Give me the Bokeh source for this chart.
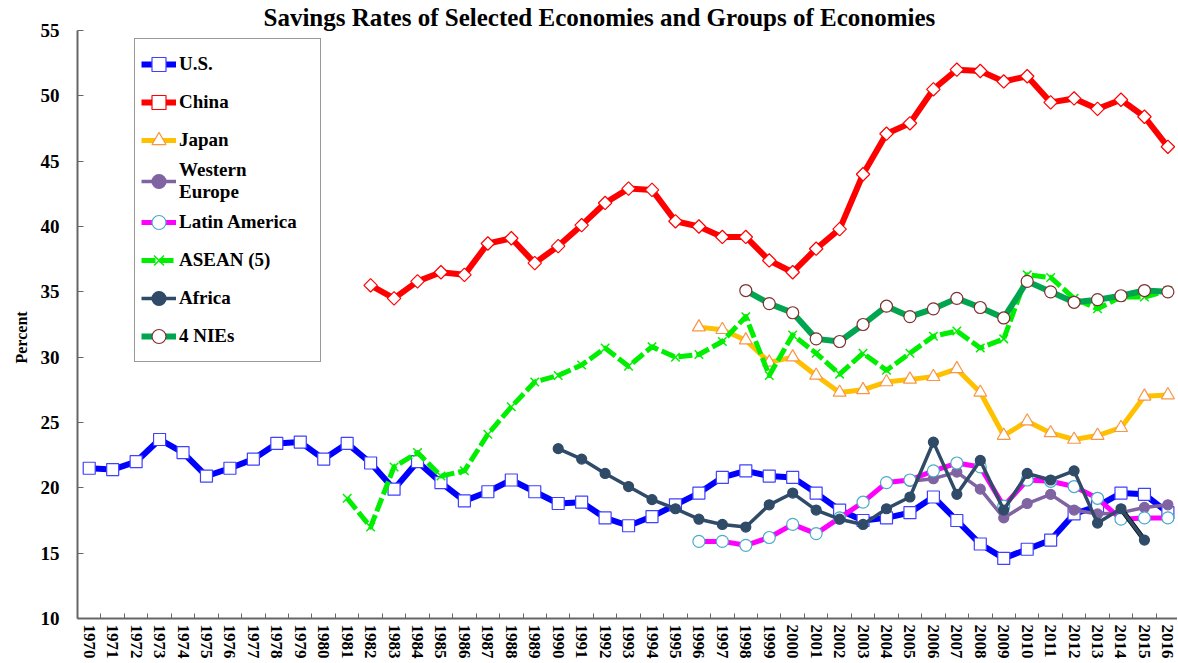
import math
from bokeh.plotting import figure
from bokeh.models import Range1d, FixedTicker, Legend, LegendItem, ColumnDataSource, Title
from bokeh.embed import file_html
from bokeh.resources import INLINE

# ---------------- data ----------------
title_text = "Savings Rates of Selected Economies and Groups of Economies"
y_label = "Percent"

all_years = list(range(1970, 2017))
y_ticks = [10, 15, 20, 25, 30, 35, 40, 45, 50, 55]

us_years = list(range(1970, 2017))
us = [21.5, 21.4, 22.0, 23.7, 22.7, 20.9, 21.5, 22.2, 23.4, 23.5,
      22.2, 23.4, 21.9, 19.9, 22.0, 20.4, 19.0, 19.7, 20.6, 19.7,
      18.8, 18.9, 17.7, 17.1, 17.8, 18.7, 19.6, 20.8, 21.3, 20.9,
      20.8, 19.6, 18.3, 17.5, 17.7, 18.1, 19.3, 17.5, 15.7, 14.6,
      15.3, 16.0, 18.0, 18.6, 19.6, 19.5, 18.1]

china_years = list(range(1982, 2017))
china = [35.5, 34.5, 35.8, 36.5, 36.3, 38.7, 39.1, 37.2, 38.5, 40.1,
         41.8, 42.9, 42.8, 40.4, 40.0, 39.2, 39.2, 37.4, 36.5, 38.3,
         39.8, 44.0, 47.1, 47.9, 50.5, 52.0, 51.9, 51.1, 51.5, 49.5,
         49.8, 49.0, 49.7, 48.4, 46.1]

japan_years = list(range(1996, 2017))
japan = [32.3, 32.1, 31.3, 29.6, 30.0, 28.6, 27.3, 27.5, 28.1, 28.3,
         28.5, 29.1, 27.3, 24.0, 25.1, 24.2, 23.7, 24.0, 24.6, 27.0, 27.1]

weurope_years = list(range(2005, 2017))
weurope = [20.5, 20.7, 21.2, 19.9, 17.7, 18.8, 19.5, 18.3, 18.0, 18.1, 18.5, 18.7]

latam_years = list(range(1996, 2017))
latam = [15.9, 15.9, 15.6, 16.2, 17.2, 16.5, 17.7, 18.9, 20.4, 20.6,
         21.3, 21.9, 21.6, 18.6, 20.6, 20.5, 20.1, 19.2, 17.6, 17.7, 17.7]

asean_years = list(range(1981, 2017))
asean = [19.2, 17.0, 21.6, 22.7, 20.9, 21.3, 24.1, 26.2, 28.1, 28.6,
         29.4, 30.7, 29.3, 30.8, 30.0, 30.2, 31.2, 33.1, 28.6, 31.7,
         30.3, 28.7, 30.3, 29.0, 30.3, 31.6, 32.0, 30.7, 31.4, 36.3,
         36.1, 34.5, 33.7, 34.6, 34.6, 35.1]

africa_years = list(range(1990, 2016))
africa = [23.0, 22.2, 21.1, 20.1, 19.1, 18.4, 17.6, 17.2, 17.0, 18.7,
          19.6, 18.3, 17.6, 17.2, 18.4, 19.3, 23.5, 19.5, 22.1, 18.3,
          21.1, 20.6, 21.3, 17.3, 18.4, 16.0]

nies_years = list(range(1998, 2017))
nies = [35.1, 34.1, 33.4, 31.4, 31.2, 32.5, 33.9, 33.1, 33.7, 34.5,
        33.8, 33.0, 35.8, 35.0, 34.2, 34.4, 34.7, 35.1, 35.0]

# ---------------- figure ----------------
FONT = "Liberation Serif"
AXIS_COLOR = "#666666"

p = figure(frame_width=1100, frame_height=588,
           x_range=Range1d(1969.5, 2016.41), y_range=Range1d(10, 55),
           output_backend="svg", toolbar_location=None,
           min_border_left=77, min_border_right=0,
           min_border_top=30, min_border_bottom=44)
p.outline_line_color = None
p.xgrid.visible = False
p.ygrid.visible = False
p.background_fill_color = "white"
p.border_fill_color = "white"

p.title.text = title_text
p.title.align = "left"
p.title.offset = 186
p.title.standoff = 0
p.title.text_font = FONT
p.title.text_font_style = "bold"
p.title.text_font_size = "25px"
p.title.text_color = "black"

# x axis: labels at years, small ticks between categories
xa = p.xaxis[0]
xa.ticker = FixedTicker(ticks=all_years, minor_ticks=[y - 0.5 for y in all_years] + [all_years[-1] + 0.5])
xa.major_tick_in = 0
xa.major_tick_out = 0
xa.minor_tick_in = 5
xa.minor_tick_out = 0
xa.minor_tick_line_color = AXIS_COLOR
xa.minor_tick_line_width = 1
xa.axis_line_color = AXIS_COLOR
xa.axis_line_width = 2
xa.major_label_orientation = "vertical"
xa.major_label_standoff = 6
xa.major_label_text_font = FONT
xa.major_label_text_font_style = "bold"
xa.major_label_text_font_size = "17px"
xa.major_label_text_color = "black"

ya = p.yaxis[0]
ya.ticker = FixedTicker(ticks=y_ticks)
ya.major_tick_in = 6
ya.major_tick_out = 0
ya.minor_tick_line_color = None
ya.major_tick_line_color = AXIS_COLOR
ya.axis_line_color = AXIS_COLOR
ya.axis_line_width = 2
ya.major_label_standoff = 18
ya.major_label_text_font = FONT
ya.major_label_text_font_style = "bold"
ya.major_label_text_font_size = "19px"
ya.major_label_text_color = "black"

# "Percent" as a side title, shifted up from the frame bottom
p.add_layout(Title(text=y_label, align="left", offset=255, standoff=16,
                   text_font=FONT, text_font_style="bold", text_font_size="16px",
                   text_color="black"), "left")

items = []

def series(name, xs, ys, color, lw, marker, msize, mline, mfill, dash="solid", angle=0.0, mlw=1.2):
    src = ColumnDataSource(dict(x=xs, y=ys))
    r1 = p.line("x", "y", source=src, line_color=color, line_width=lw, line_dash=dash,
                line_join="round")
    r2 = p.scatter("x", "y", source=src, marker=marker, size=msize, angle=angle,
                   line_color=mline, fill_color=mfill, line_width=mlw)
    items.append(LegendItem(label=name, renderers=[r1, r2]))
    return r1, r2

series("U.S.", us_years, us, "#0000FF", 6, "square", 12, "#4040FF", "white")
series("China", china_years, china, "#FF0000", 6, "square", 9.5, "#FF0000", "white", angle=math.pi / 4)
series("Japan", japan_years, japan, "#FFC000", 5, "triangle", 13, "#F79646", "white")
series("Western\nEurope", weurope_years, weurope, "#8064A2", 3.5, "circle", 10, "#8064A2", "#8064A2")
series("Latin America", latam_years, latam, "#FF00FF", 5, "circle", 12, "#4BACC6", "white")
series("ASEAN (5)", asean_years, asean, "#00EE00", 5, "x", 12, "#00EE00", "#00EE00", dash="14 4", mlw=1.5)

# Africa: last segment drawn in black
africa_tail = ColumnDataSource(dict(x=africa_years[-2:], y=africa[-2:]))
p.line("x", "y", source=africa_tail, line_color="black", line_width=5)
series("Africa", africa_years, africa, "#2F4B68", 3.5, "circle", 10, "#2F4B68", "#2F4B68")
series("4 NIEs", nies_years, nies, "#00A550", 6, "circle", 12, "#7F3030", "white")

legend = Legend(items=items, location=(57, 256), orientation="vertical",
                glyph_width=35, glyph_height=38, label_height=38, label_width=135,
                spacing=0, padding=6, label_standoff=3,
                border_line_color="#333333", border_line_width=1.5,
                background_fill_color="white", background_fill_alpha=1.0,
                label_text_font=FONT, label_text_font_style="bold",
                label_text_font_size="19px",
                label_text_color="black")
p.add_layout(legend)

open("out.html", "w").write(file_html(p, INLINE))
